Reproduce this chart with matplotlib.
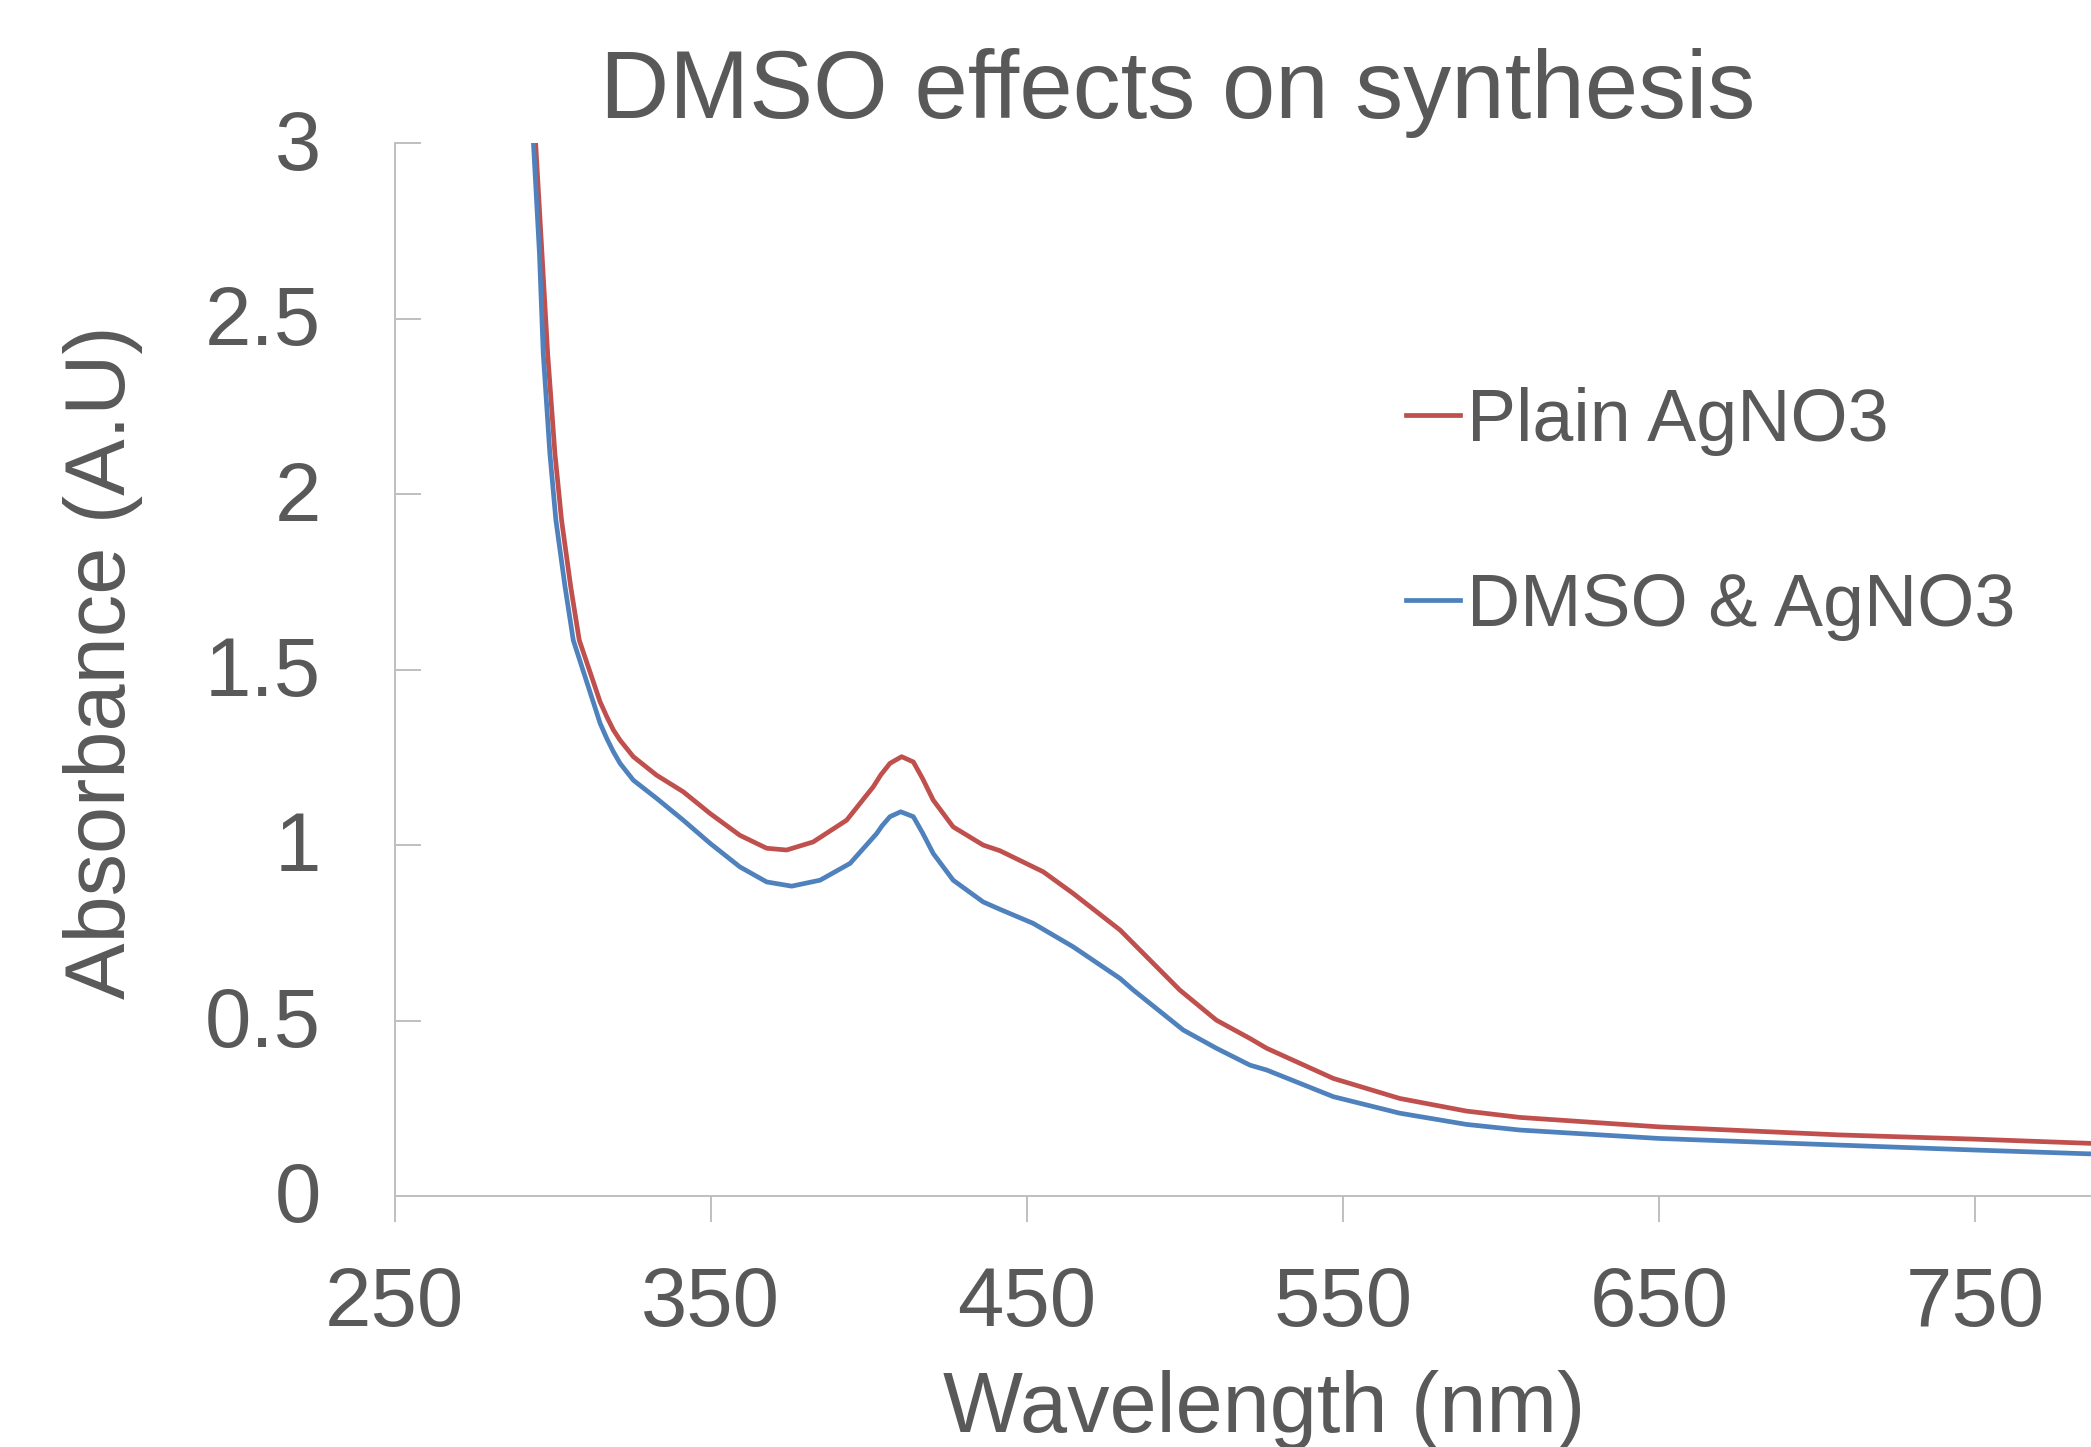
import matplotlib
matplotlib.use("Agg")
import matplotlib.pyplot as plt
from matplotlib.transforms import ScaledTranslation

plt.rcParams['font.family'] = ['Liberation Sans', 'DejaVu Sans']

# values (wavelength in nm, absorbance in A.U)
plain_nm = [291.0, 294.6, 296.6, 298.4, 300.7, 302.8, 305.7, 308.4, 315.0, 317.1,
            319.2, 321.3, 325.5, 332.9, 341.3, 349.8, 359.2, 367.7, 374.0, 382.4,
            393.0, 401.4, 403.8, 406.7, 410.4, 414.1, 417.0, 420.4, 426.7, 436.2,
            441.5, 452.0, 455.2, 464.7, 479.5, 485.8, 498.4, 510.0, 520.6, 525.9,
            547.0, 568.0, 589.1, 606.0, 650.1, 707.3, 750.0, 786.7, 800.0]
plain_abs = [3.50, 3.00, 2.686, 2.401, 2.116, 1.926, 1.736, 1.584, 1.408, 1.366,
             1.328, 1.299, 1.252, 1.199, 1.152, 1.090, 1.028, 0.991, 0.986, 1.009,
             1.071, 1.166, 1.200, 1.233, 1.252, 1.237, 1.190, 1.128, 1.052, 1.000,
             0.984, 0.938, 0.924, 0.862, 0.758, 0.701, 0.587, 0.501, 0.449, 0.421,
             0.335, 0.278, 0.242, 0.224, 0.197, 0.174, 0.162, 0.150, 0.146]

dmso_nm = [290.5, 293.9, 295.8, 297.0, 299.1, 301.0, 303.9, 306.5, 315.0, 317.1,
           319.2, 321.3, 325.5, 332.9, 341.3, 349.8, 359.2, 367.7, 375.6, 384.6,
           394.1, 402.5, 404.2, 406.7, 410.1, 414.1, 417.0, 420.4, 426.7, 436.2,
           441.5, 452.0, 464.7, 479.5, 483.7, 499.5, 510.0, 520.6, 525.9, 547.0,
           568.0, 589.1, 606.0, 650.1, 707.3, 750.0, 786.7, 800.0]
dmso_abs = [3.50, 3.00, 2.686, 2.401, 2.116, 1.926, 1.736, 1.584, 1.347, 1.304,
            1.266, 1.233, 1.185, 1.133, 1.071, 1.005, 0.938, 0.895, 0.883, 0.900,
            0.948, 1.033, 1.055, 1.081, 1.095, 1.081, 1.035, 0.976, 0.900, 0.838,
            0.817, 0.777, 0.710, 0.620, 0.587, 0.473, 0.421, 0.373, 0.359, 0.283,
            0.236, 0.204, 0.188, 0.164, 0.145, 0.131, 0.120, 0.116]

series_names = ["Plain AgNO3", "DMSO & AgNO3"]
series_colors = ["#C0504D", "#4F81BD"]

x_ticks = [250, 350, 450, 550, 650, 750]
y_ticks = [0, 0.5, 1, 1.5, 2, 2.5, 3]
y_tick_labels = ["0", "0.5", "1", "1.5", "2", "2.5", "3"]

text_grey = "#595959"
axis_grey = "#BFBFBF"

fig = plt.figure(figsize=(20.91, 14.47), dpi=100)
# the plot area runs to 800 nm, past the right edge of the picture
ax = fig.add_axes([0.18876, 0.17346, 0.83132, 0.72751])

ax.plot(plain_nm, plain_abs, color=series_colors[0], lw=3.4,
        solid_joinstyle='round', label=series_names[0])
ax.plot(dmso_nm, dmso_abs, color=series_colors[1], lw=3.4,
        solid_joinstyle='round', label=series_names[1])

ax.set_xlim(250, 800)
ax.set_ylim(0, 3)
ax.set_xticks(x_ticks)
ax.set_yticks(y_ticks)
ax.set_yticklabels(y_tick_labels)

for side in ['top', 'right']:
    ax.spines[side].set_visible(False)
for side in ['left', 'bottom']:
    ax.spines[side].set_color(axis_grey)
    ax.spines[side].set_linewidth(1.4)

ax.tick_params(axis='x', direction='out', length=18.7, width=1.4, color=axis_grey,
               labelsize=60, labelcolor=text_grey, pad=31)
ax.tick_params(axis='y', direction='in', length=18.7, width=1.4, color=axis_grey,
               labelsize=60, labelcolor=text_grey, pad=53)

# nudge the y tick labels up a little, as in the reference
for lbl in ax.get_yticklabels():
    lbl.set_transform(lbl.get_transform() + ScaledTranslation(0, 3 / 72, fig.dpi_scale_trans))

fig.text(0.5634, 0.9185, "DMSO effects on synthesis", fontsize=69, color=text_grey,
         ha='center', va='baseline')
fig.text(0.6045, 0.0106, "Wavelength (nm)", fontsize=61, color=text_grey,
         ha='center', va='baseline')
fig.text(0.060, 0.5425, "Absorbance (A.U)", fontsize=61, color=text_grey,
         ha='center', va='baseline', rotation=90, rotation_mode='anchor')

leg = ax.legend(loc='center left', bbox_to_anchor=(0.6724, 0.645),
                bbox_transform=fig.transFigure, frameon=False, fontsize=53,
                handlelength=0.73, handletextpad=0.1, labelspacing=1.58,
                borderpad=0, borderaxespad=0)
for t in leg.get_texts():
    t.set_color(text_grey)
for h in leg.get_lines():
    h.set_linewidth(3.4)

fig.savefig("out.png", dpi=100)
